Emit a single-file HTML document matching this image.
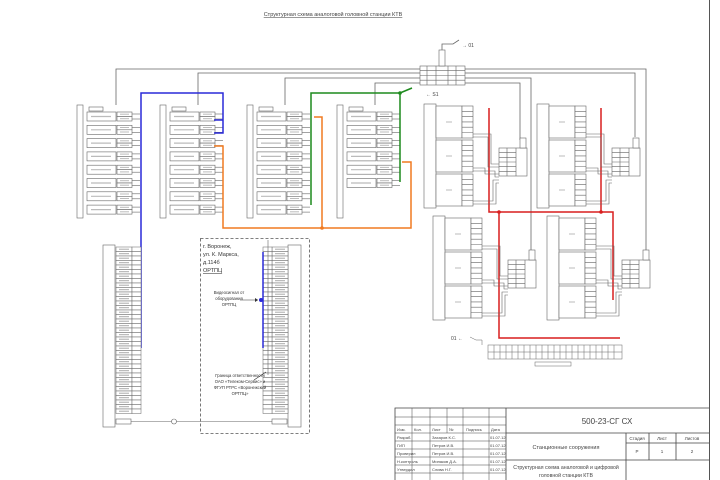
<!DOCTYPE html>
<html><head><meta charset="utf-8"><style>
body{margin:0;background:#fff}
svg{display:block;font-family:"Liberation Sans","DejaVu Sans",sans-serif}
</style></head><body>
<svg width="720" height="480" viewBox="0 0 720 480" xmlns="http://www.w3.org/2000/svg">
<defs>
<g id="row" fill="#fff" stroke="#666" stroke-width="0.6">
<rect x="10" y="0" width="29" height="9"/>
<rect x="40" y="0" width="15" height="4.5"/><rect x="40" y="4.5" width="15" height="4.5"/>
<line x1="55" y1="2" x2="63" y2="2"/><line x1="55" y1="7" x2="63" y2="7"/>
<line x1="14" y1="4.5" x2="34" y2="4.5" stroke="#bbb" stroke-width="1.2"/>
<line x1="43" y1="2.2" x2="52" y2="2.2" stroke="#bbb" stroke-width="1"/>
<line x1="43" y1="6.7" x2="52" y2="6.7" stroke="#bbb" stroke-width="1"/>
</g>
<g id="rackhead" fill="#fff" stroke="#666" stroke-width="0.6">
<rect x="0" y="0" width="6" height="113"/>
<rect x="12" y="2" width="14" height="4"/>
</g>
<g id="blk" fill="#fff" stroke="#666" stroke-width="0.6">
<rect x="0" y="0" width="12" height="104"/>
<rect x="12" y="2" width="26" height="32"/><rect x="38" y="2" width="11" height="32"/>
<rect x="12" y="36" width="26" height="32"/><rect x="38" y="36" width="11" height="32"/>
<rect x="12" y="70" width="26" height="32"/><rect x="38" y="70" width="11" height="32"/>
<path d="M38 7.3h11M38 12.6h11M38 17.9h11M38 23.2h11M38 28.5h11M38 41.3h11M38 46.6h11M38 51.9h11M38 57.2h11M38 62.5h11M38 75.3h11M38 80.6h11M38 85.9h11M38 91.2h11M38 96.5h11"/>
<path d="M49 30h18v30h8M49 33h15v30h11M49 64h12v6h14M49 67h22v6h4M49 97h20v-21h6M49 100h23v-21h3" fill="none"/>
<rect x="75" y="44" width="28" height="28"/>
<path d="M75 48.7h17M75 53.3h17M75 58h17M75 62.7h17M75 67.3h17M83 44v28M92 44v28"/>
<rect x="96" y="34" width="6" height="10"/>
<path d="M22 18h6M22 52h6M22 86h6" stroke="#bbb" stroke-width="1"/>
</g>
<g id="term" fill="#fff" stroke="#666" stroke-width="0.5">
<rect x="0" y="0" width="16" height="4.5"/><rect x="16" y="0" width="9" height="4.5"/>
<line x1="3" y1="2.2" x2="13" y2="2.2" stroke="#aaa" stroke-width="1"/>
</g>
</defs>

<line x1="709.5" y1="0" x2="709.5" y2="480" stroke="#555" stroke-width="1"/>

<text x="333" y="16" font-size="5.5" text-anchor="middle" fill="#444" text-decoration="underline">Структурная схема аналоговой головной станции КТВ</text>

<g fill="none" stroke="#666" stroke-width="0.8">
<path d="M116 105V69H422"/><path d="M198 105V73H422"/><path d="M285 105V78H422"/><path d="M375 105V83H422"/>
<path d="M465 69H646V262"/><path d="M465 73H635V137"/><path d="M465 78H531V262"/><path d="M465 83H520V140"/>
<path d="M442 50V44H453l6-4"/>
</g>
<g fill="#fff" stroke="#666" stroke-width="0.6">
<rect x="420" y="66" width="45" height="19"/>
<path d="M420 70.7h45M420 75.5h45M420 80.2h45M427 66v19M436 66v19M448 66v19M456 66v19"/>
<rect x="439" y="50" width="6" height="16"/>
</g>
<text x="462" y="47" font-size="5" fill="#444">→  01</text>
<text x="426" y="96" font-size="5" fill="#444">←  S1</text>
<text x="451" y="340" font-size="5" fill="#444">01 ←</text>

<g transform="translate(77,105)"><use href="#rackhead"/>
<use href="#row" y="7"/><use href="#row" y="20.3"/><use href="#row" y="33.6"/><use href="#row" y="46.9"/><use href="#row" y="60.2"/><use href="#row" y="73.5"/><use href="#row" y="86.8"/><use href="#row" y="100.1"/></g>
<g transform="translate(160,105)"><use href="#rackhead"/>
<use href="#row" y="7"/><use href="#row" y="20.3"/><use href="#row" y="33.6"/><use href="#row" y="46.9"/><use href="#row" y="60.2"/><use href="#row" y="73.5"/><use href="#row" y="86.8"/><use href="#row" y="100.1"/></g>
<g transform="translate(247,105)"><use href="#rackhead"/>
<use href="#row" y="7"/><use href="#row" y="20.3"/><use href="#row" y="33.6"/><use href="#row" y="46.9"/><use href="#row" y="60.2"/><use href="#row" y="73.5"/><use href="#row" y="86.8"/><use href="#row" y="100.1"/></g>
<g transform="translate(337,105)"><use href="#rackhead"/>
<use href="#row" y="7"/><use href="#row" y="20.3"/><use href="#row" y="33.6"/><use href="#row" y="46.9"/><use href="#row" y="60.2"/><use href="#row" y="73.5"/></g>

<g fill="none" stroke-width="1.5">
<path d="M141 348V93H223V133H214" stroke="#2a2ad8"/>
<path d="M214 120H223" stroke="#2a2ad8"/>
<path d="M311 205V93H400V182" stroke="#1d8a1d"/>
<path d="M400 93l12-5" stroke="#1d8a1d"/>
<path d="M214 146H223V228H411V162H402" stroke="#f07a20"/>
<path d="M314 117H322V228" stroke="#f07a20"/>
<path d="M489 108V212H613V300" stroke="#d81f1f"/>
<path d="M601 108V212" stroke="#d81f1f"/>
<path d="M499 212V338H620" stroke="#d81f1f"/>
</g>
<circle cx="400" cy="93" r="1.8" fill="#1d8a1d"/><circle cx="322" cy="228" r="1.8" fill="#f07a20"/>
<circle cx="499" cy="212" r="1.8" fill="#d81f1f"/><circle cx="601" cy="212" r="1.8" fill="#d81f1f"/>

<use href="#blk" x="424" y="104"/>
<use href="#blk" x="537" y="104"/>
<use href="#blk" x="433" y="216"/>
<use href="#blk" x="547" y="216"/>

<g fill="#fff" stroke="#666" stroke-width="0.5">
<rect x="488" y="345" width="134" height="14"/>
<path d="M494 345v14M500 345v14M506 345v14M512 345v14M518 345v14M524 345v14M530 345v14M536 345v14M542 345v14M548 345v14M554 345v14M560 345v14M566 345v14M572 345v14M578 345v14M584 345v14M590 345v14M596 345v14M602 345v14M608 345v14M614 345v14"/>
<path d="M488 352h134"/>
<rect x="535" y="362" width="36" height="4"/>
<path d="M470 337l6 3h6v5" fill="none"/>
</g>

<g fill="#fff" stroke="#666" stroke-width="0.6">
<rect x="103" y="245" width="12" height="182"/>
<rect x="288" y="245" width="13" height="182"/>
</g>
<g id="tcolL">
<use href="#term" x="116" y="247"/><use href="#term" x="116" y="251.5"/><use href="#term" x="116" y="256"/><use href="#term" x="116" y="260.5"/><use href="#term" x="116" y="265"/><use href="#term" x="116" y="269.5"/><use href="#term" x="116" y="274"/><use href="#term" x="116" y="278.5"/><use href="#term" x="116" y="283"/><use href="#term" x="116" y="287.5"/><use href="#term" x="116" y="292"/><use href="#term" x="116" y="296.5"/><use href="#term" x="116" y="301"/><use href="#term" x="116" y="305.5"/><use href="#term" x="116" y="310"/><use href="#term" x="116" y="314.5"/><use href="#term" x="116" y="319"/><use href="#term" x="116" y="323.5"/><use href="#term" x="116" y="328"/><use href="#term" x="116" y="332.5"/><use href="#term" x="116" y="337"/><use href="#term" x="116" y="341.5"/><use href="#term" x="116" y="346"/><use href="#term" x="116" y="350.5"/><use href="#term" x="116" y="355"/><use href="#term" x="116" y="359.5"/><use href="#term" x="116" y="364"/><use href="#term" x="116" y="368.5"/><use href="#term" x="116" y="373"/><use href="#term" x="116" y="377.5"/><use href="#term" x="116" y="382"/><use href="#term" x="116" y="386.5"/><use href="#term" x="116" y="391"/><use href="#term" x="116" y="395.5"/><use href="#term" x="116" y="400"/><use href="#term" x="116" y="404.5"/><use href="#term" x="116" y="409"/>
</g>
<use href="#tcolL" transform="matrix(-1,0,0,1,404,0)"/>
<g fill="#fff" stroke="#666" stroke-width="0.6">
<rect x="116" y="419" width="15" height="5"/><rect x="272" y="419" width="15" height="5"/>
<line x1="131" y1="421.5" x2="272" y2="421.5"/>
<circle cx="174" cy="421.5" r="2.5"/>
</g>
<rect x="200.5" y="238.5" width="109" height="195" fill="none" stroke="#555" stroke-width="0.8" stroke-dasharray="3,2"/>
<line x1="263" y1="252" x2="263" y2="348" stroke="#2a2ad8" stroke-width="1.5"/>
<line x1="268" y1="240" x2="268" y2="375" stroke="#666" stroke-width="0.6"/>
<circle cx="261" cy="300" r="2" fill="#2a2ad8"/>
<path d="M240 300h18" stroke="#333" stroke-width="0.6"/><path d="M255 298l3 2-3 2z" fill="#333"/>
<path d="M254 380l12-8" stroke="#333" stroke-width="0.6"/>
<g font-size="5.5" fill="#333">
<text x="203" y="248">г. Воронеж,</text>
<text x="203" y="256">ул. К. Маркса,</text>
<text x="203" y="264">д.114б</text>
<text x="203" y="272" text-decoration="underline">ОРТПЦ</text>
</g>
<g font-size="4.2" fill="#333" text-anchor="middle">
<text x="229" y="294">Видеосигнал от</text>
<text x="229" y="300">оборудования</text>
<text x="229" y="306">ОРТПЦ</text>
<text x="240" y="377">Граница ответственности</text>
<text x="240" y="383">ОАО «Телеком-Сервис» и</text>
<text x="240" y="389">ФГУП РТРС «Воронежский</text>
<text x="240" y="395">ОРТПЦ»</text>
</g>

<g fill="none" stroke="#444" stroke-width="0.8">
<path d="M395 480V408H709"/>
<path d="M506 408V480"/>
<path d="M506 433H709M506 460H709M626 433V480M649 433V460M676 433V460M626 443H709"/>
<path d="M395 417H506M395 425H506M395 433H506M395 441H506M395 449H506M395 457H506M395 465H506M395 473H506" stroke-width="0.5"/>
<path d="M412 408V480M430 408V480M447 408V433M463 408V480M489 408V480" stroke-width="0.5"/>
</g>
<g font-size="4" fill="#444">
<text x="397" y="431">Изм.</text><text x="414" y="431">Кол.</text><text x="432" y="431">Лист</text><text x="449" y="431">№</text><text x="466" y="431">Подпись</text><text x="491" y="431">Дата</text>
<text x="397" y="439">Разраб.</text><text x="432" y="439">Захаров К.С.</text><text x="490" y="439">01.07.12</text>
<text x="397" y="447">ГИП</text><text x="432" y="447">Петров И.В.</text><text x="490" y="447">01.07.12</text>
<text x="397" y="455">Проверил</text><text x="432" y="455">Петров И.В.</text><text x="490" y="455">01.07.12</text>
<text x="397" y="463">Н.контроль</text><text x="432" y="463">Минаков Д.А.</text><text x="490" y="463">01.07.12</text>
<text x="397" y="471">Утвердил</text><text x="432" y="471">Слива Н.Г.</text><text x="490" y="471">01.07.12</text>
</g>
<text x="607" y="424" font-size="8" fill="#444" text-anchor="middle">500-23-СГ СХ</text>
<text x="566" y="449" font-size="5.5" fill="#444" text-anchor="middle">Станционные сооружения</text>
<text x="566" y="469" font-size="5.2" fill="#444" text-anchor="middle">Структурная схема аналоговой и цифровой</text>
<text x="566" y="477" font-size="5.2" fill="#444" text-anchor="middle">головной станции КТВ</text>
<g font-size="4.5" fill="#444" text-anchor="middle">
<text x="637" y="440">Стадия</text><text x="662" y="440">Лист</text><text x="692" y="440">Листов</text>
<text x="637" y="453">Р</text><text x="662" y="453">1</text><text x="692" y="453">2</text>
</g>
</svg>
</body></html>
